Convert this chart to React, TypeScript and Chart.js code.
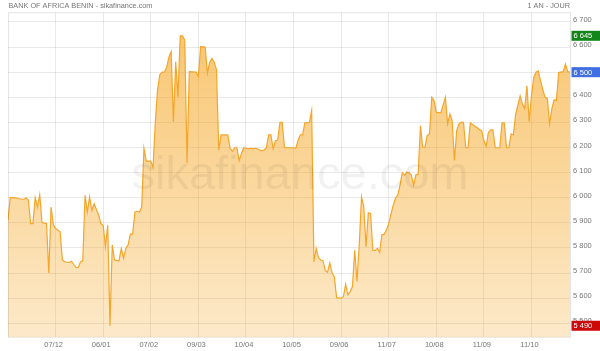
import React, { useEffect, useRef } from 'react';
import { Chart, registerables } from 'chart.js';

Chart.register(...registerables);

const TITLE = 'BANK OF AFRICA BENIN - sikafinance.com';
const PERIOD = '1 AN - JOUR';
const WATERMARK = 'sikafinance.com';

// trading-day index of each vertex and the closing price there
const DAYS = [
  0, 1, 3, 5, 7, 8, 9, 10, 11, 12, 13, 14, 15, 17, 18, 19, 20, 21, 23, 24, 25, 27, 28, 29, 30, 31, 32, 33, 34, 35,
  36, 37, 38, 40, 41, 42, 43, 44, 45, 46, 47, 49, 50, 51, 52, 53, 54, 55, 56, 57, 58, 59, 60, 61, 63, 64, 65, 66, 67, 68,
  69, 70, 71, 72, 73, 74, 75, 76, 77, 78, 79, 80, 83, 84, 85, 87, 88, 89, 90, 91, 92, 93, 94, 97, 98, 99, 100, 101, 102, 103,
  104, 105, 106, 107, 108, 109, 110, 111, 112, 113, 114, 115, 116, 117, 118, 119, 120, 121, 122, 126, 127, 128, 129, 130, 131, 133, 134, 135, 136, 137,
  138, 139, 140, 141, 142, 143, 144, 145, 146, 147, 148, 149, 150, 151, 152, 153, 154, 155, 156, 157, 158, 159, 160, 161, 162, 163, 164, 165, 166, 167,
  168, 169, 170, 171, 172, 173, 174, 175, 176, 177, 178, 179, 180, 181, 182, 183, 184, 185, 186, 187, 188, 189, 191, 193, 194, 195, 196, 197, 198, 199,
  200, 201, 202, 203, 204, 205, 206, 207, 208, 209, 210, 211, 212, 213, 214, 215, 217, 218, 219, 220, 221, 222, 223, 224, 225, 226, 227, 228, 229, 230,
  231, 232, 233, 234, 235, 236, 237, 238, 239, 240, 241, 242, 243, 245, 246, 247, 248,
];
const PRICES = [
  5910, 6000, 6000, 5996, 5993, 6000, 5990, 5897, 5897, 6000, 5963, 6012, 5901, 5897, 5700, 5963, 5893, 5877, 5864, 5752, 5745, 5742, 5747, 5734, 5722, 5722, 5745, 5749, 6010, 5943,
  6003, 5950, 5976, 5930, 5897, 5890, 5805, 5890, 5490, 5812, 5752, 5749, 5798, 5759, 5798, 5812, 5855, 5855, 5943, 5946, 5943, 5963, 6197, 6146, 6146, 6120, 6300, 6430, 6490, 6500,
  6500, 6519, 6560, 6582, 6303, 6542, 6402, 6645, 6645, 6628, 6138, 6502, 6500, 6482, 6602, 6600, 6496, 6540, 6555, 6540, 6510, 6190, 6250, 6250, 6197, 6185, 6199, 6199, 6148, 6175,
  6199, 6197, 6195, 6197, 6195, 6197, 6195, 6190, 6188, 6190, 6198, 6250, 6250, 6195, 6228, 6230, 6300, 6300, 6199, 6199, 6197, 6228, 6250, 6250, 6298, 6300, 6347, 5745, 5798, 5760,
  5752, 5749, 5710, 5703, 5740, 5700, 5685, 5602, 5600, 5600, 5606, 5655, 5613, 5626, 5646, 5791, 5666, 5812, 6003, 5963, 5805, 5940, 5937, 5791, 5790, 5798, 5782, 5853, 5855, 5871,
  5897, 5935, 5970, 5999, 6010, 6050, 6100, 6089, 6102, 6099, 6090, 6049, 6091, 6093, 6287, 6201, 6201, 6248, 6254, 6400, 6387, 6340, 6338, 6400, 6294, 6334, 6307, 6148, 6267, 6294,
  6300, 6300, 6199, 6199, 6298, 6292, 6285, 6280, 6272, 6267, 6228, 6204, 6261, 6270, 6270, 6199, 6199, 6298, 6298, 6199, 6199, 6254, 6250, 6330, 6370, 6406, 6373, 6355, 6446, 6303,
  6406, 6479, 6500, 6505, 6465, 6430, 6400, 6396, 6294, 6355, 6390, 6387, 6499, 6502, 6532, 6502, 6500,
];

const MONTH_TICKS = [21, 42, 63, 84, 105, 126, 147, 168, 189, 210, 231];
const MONTH_LABELS = ['07/12', '06/01', '07/02', '09/03', '10/04', '10/05', '09/06', '11/07', '10/08', '11/09', '11/10'];
const Y_TICKS = [5500, 5600, 5700, 5800, 5900, 6000, 6100, 6200, 6300, 6400, 6500, 6600, 6700];

const HIGH = 6645;
const LAST = 6500;
const LOW = 5490;

const X_MIN = 0;
const X_MAX = 248;
const Y_MIN = 5444;
const Y_MAX = 6737;

const FONT = "'Liberation Sans', Arial, sans-serif";
const fmt = (v: number) => String(Math.round(v)).replace(/\B(?=(\d{3})+(?!\d))/g, ' ');

export default function App() {
  const ref = useRef<HTMLCanvasElement | null>(null);

  useEffect(() => {
    document.body.style.margin = '0';
    const canvas = ref.current;
    if (!canvas) return;

    const decor = {
      id: 'decor',
      beforeDraw(chart: any) {
        const c = chart.ctx;
        c.save();
        c.fillStyle = '#ffffff';
        c.fillRect(0, 0, chart.width, chart.height);
        c.restore();
      },
      afterDatasetsDraw(chart: any) {
        const c = chart.ctx;
        const a = chart.chartArea;
        c.save();
        c.font = `47px ${FONT}`;
        c.fillStyle = 'rgba(0,0,0,0.055)';
        c.textAlign = 'center';
        c.textBaseline = 'alphabetic';
        c.fillText(WATERMARK, 300, 189);
        c.strokeStyle = 'rgba(0,0,0,0.1)';
        c.lineWidth = 1;
        c.strokeRect(a.left + 0.5, a.top, a.right - a.left, a.bottom - a.top);
        c.restore();
      },
      afterDraw(chart: any) {
        const c = chart.ctx;
        const a = chart.chartArea;
        const y = chart.scales.y;
        c.save();
        c.font = `7.3px ${FONT}`;
        c.fillStyle = '#777';
        c.textBaseline = 'middle';
        c.textAlign = 'left';
        c.fillText(TITLE, 8.5, 5.8);
        c.textAlign = 'right';
        c.fillText(PERIOD, a.right, 5.8);
        const badges = [
          { v: HIGH, color: '#13861a' },
          { v: LAST, color: '#3f6fe3' },
          { v: LOW, color: '#cc0a0a' },
        ];
        for (const b of badges) {
          const py = y.getPixelForValue(b.v);
          c.fillStyle = b.color;
          c.fillRect(a.right + 1.5, py - 5, chart.width - a.right - 1.5, 10);
          c.fillStyle = '#ffffff';
          c.textAlign = 'left';
          c.font = `7.5px ${FONT}`;
          c.fillText(fmt(b.v), a.right + 3.5, py + 0.5);
        }
        c.restore();
      },
    };

    const chart = new Chart(canvas, {
      type: 'line',
      data: {
        datasets: [
          {
            data: DAYS.map((d, i) => ({ x: d, y: PRICES[i] })),
            borderColor: '#f5a52a',
            borderWidth: 1.2,
            pointRadius: 0,
            tension: 0,
            fill: 'start',
            backgroundColor: (ctx: any) => {
              const area = ctx.chart.chartArea;
              if (!area) return 'rgba(245,170,40,0.4)';
              const g = ctx.chart.ctx.createLinearGradient(0, area.top, 0, area.bottom);
              g.addColorStop(0, 'rgba(245,168,40,0.68)');
              g.addColorStop(1, 'rgba(245,168,40,0.25)');
              return g;
            },
          },
        ],
      },
      options: {
        responsive: false,
        animation: false,
        devicePixelRatio: 1,
        layout: { padding: { left: 8, top: 12.7, right: 0, bottom: 0 } },
        plugins: { legend: { display: false }, tooltip: { enabled: false }, title: { display: false } },
        scales: {
          x: {
            type: 'linear',
            min: X_MIN,
            max: X_MAX,
            afterBuildTicks: (axis: any) => {
              axis.ticks = MONTH_TICKS.map((v) => ({ value: v }));
            },
            afterFit: (axis: any) => {
              axis.height = 13.7;
            },
            grid: { color: 'rgba(0,0,0,0.085)', drawTicks: false },
            border: { display: false },
            ticks: {
              autoSkip: false,
              maxRotation: 0,
              padding: 3,
              labelOffset: -2,
              color: '#777',
              font: { family: FONT, size: 7.5 },
              callback: (v: any) => {
                const i = MONTH_TICKS.indexOf(Number(v));
                return i >= 0 ? MONTH_LABELS[i] : '';
              },
            },
          },
          y: {
            type: 'linear',
            position: 'right',
            min: Y_MIN,
            max: Y_MAX,
            afterBuildTicks: (axis: any) => {
              axis.ticks = Y_TICKS.map((v) => ({ value: v }));
            },
            afterFit: (axis: any) => {
              axis.width = 30;
            },
            grid: { color: 'rgba(0,0,0,0.085)', drawTicks: false },
            border: { display: false },
            ticks: {
              padding: 3,
              labelOffset: -2,
              color: '#777',
              font: { family: FONT, size: 7.5 },
              callback: (v: any) => fmt(Number(v)),
            },
          },
        },
      },
      plugins: [decor],
    } as any);

    return () => chart.destroy();
  }, []);

  return (
    <div style={{ width: 600, height: 351 }}>
      <canvas ref={ref} width={600} height={351} style={{ width: 600, height: 351, display: 'block' }} />
    </div>
  );
}
